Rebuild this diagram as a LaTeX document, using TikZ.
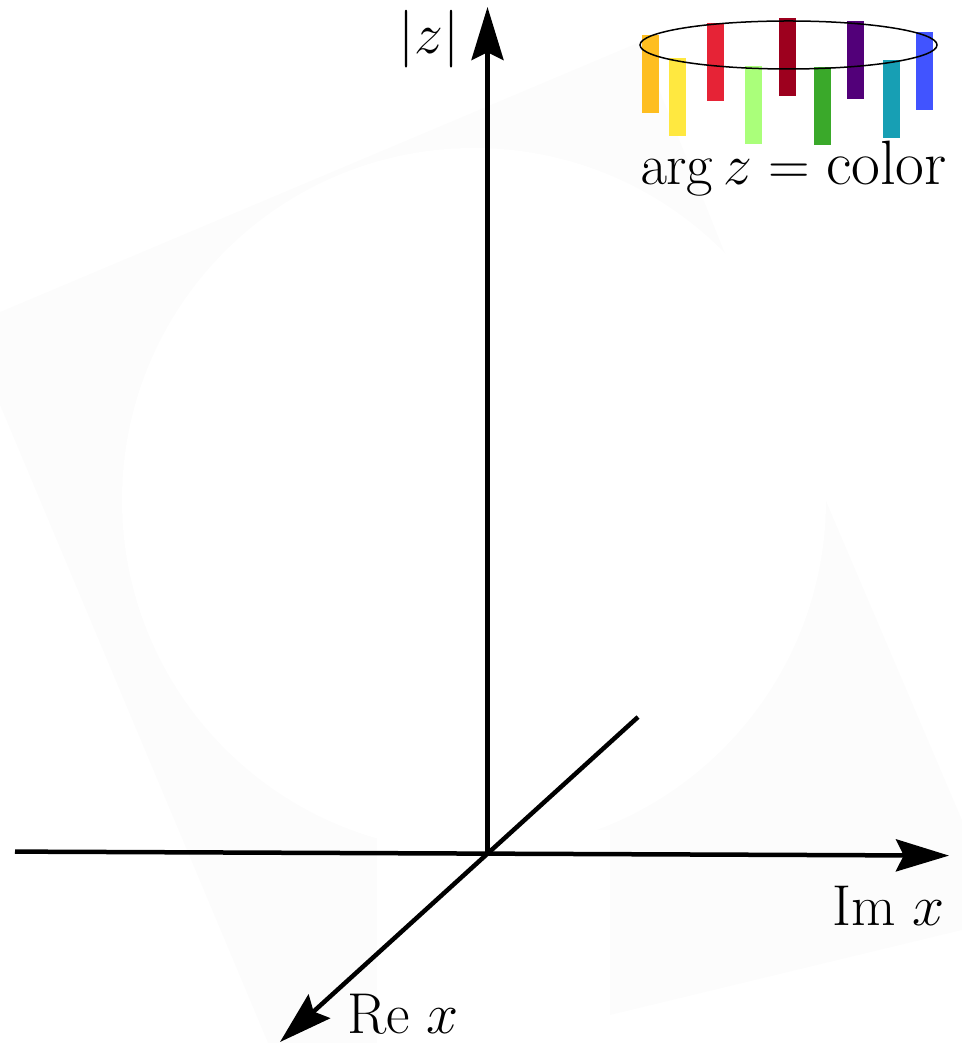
\documentclass[tikz,border=0pt]{standalone}
\usepackage{amsmath}
\usetikzlibrary{arrows.meta,calc,positioning}
\definecolor{c_orange}{HTML}{FEBE20}
\definecolor{c_yellow}{HTML}{FFE840}
\definecolor{c_red}{HTML}{E62336}
\definecolor{c_lime}{HTML}{AAFF7A}
\definecolor{c_wine}{HTML}{9D001E}
\definecolor{c_green}{HTML}{3AA92A}
\definecolor{c_purple}{HTML}{520079}
\definecolor{c_teal}{HTML}{179FB4}
\definecolor{c_blue}{HTML}{4154FF}
\tikzset{AXIS/.style={line width=1.35pt, -{Stealth[length=15.9pt,width=9.6pt,inset=2.3pt]}}}
\tikzset{LABEL/.style={font=\fontsize{18.8}{22}\selectfont, inner sep=0pt}}
\tikzset{RING/.style={line width=0.45pt}}
\tikzset{SHADE/.style={fill=black!1.2}}

\begin{document}
\begin{tikzpicture}[x=0.3pt,y=-0.3pt]
\useasboundingbox (0,0) rectangle (962,1043);

% faint backdrop
\fill[SHADE] (0,312) -- (640,42) -- (800,440) -- (962,820) -- (962,930) -- (610,1015) -- (610,1043) -- (268,1043) -- (0,405) -- cycle;
\fill[white] (474,500) circle[radius=352];
\fill[white] (377,830) rectangle (610,1043);

\coordinate (c_origin) at (487.5,853);
\coordinate (c_abs_tip) at (487.5,7);
\coordinate (c_im_start) at (15,851.6);
\coordinate (c_im_tip) at (949,855.6);
\coordinate (c_re_back) at (638,717);
\coordinate (c_re_tip) at (280,1042);

\draw[AXIS] (c_origin) -- (c_abs_tip);
\draw[AXIS] (c_im_start) -- (c_im_tip);
\draw[AXIS] (c_re_back) -- (c_re_tip);

\node[LABEL, font=\LARGE, anchor=base] (n_abs) at ($(c_abs_tip)+(-58.5,47)$) {$|z|$};
\node[LABEL, anchor=base east] (n_im) at ($(c_im_tip)+(-4,70)$) {$\mathrm{Im}\;x$};
\node[LABEL, anchor=base west] (n_re) at ($(c_re_tip)+(67,-9)$) {$\mathrm{Re}\;x$};

% colour ring
\coordinate (c_ring) at (788.5,45);
\foreach \bx/\by/\col in {650/35/c_orange, 677.5/58/c_yellow, 715.5/23/c_red, 753.5/66/c_lime, 787.5/18/c_wine, 822.5/67/c_green, 855.5/21/c_purple, 891.5/60/c_teal, 924.5/32/c_blue}
  \fill[\col] (\bx-8.5,\by) rectangle ++(17,78);
\draw[RING] (c_ring) ellipse[x radius=148.5, y radius=24];
\node[LABEL, anchor=base] (n_legend) at ($(c_ring)+(5,140)$) {$\arg z = \text{color}$};

\end{tikzpicture}
\end{document}
